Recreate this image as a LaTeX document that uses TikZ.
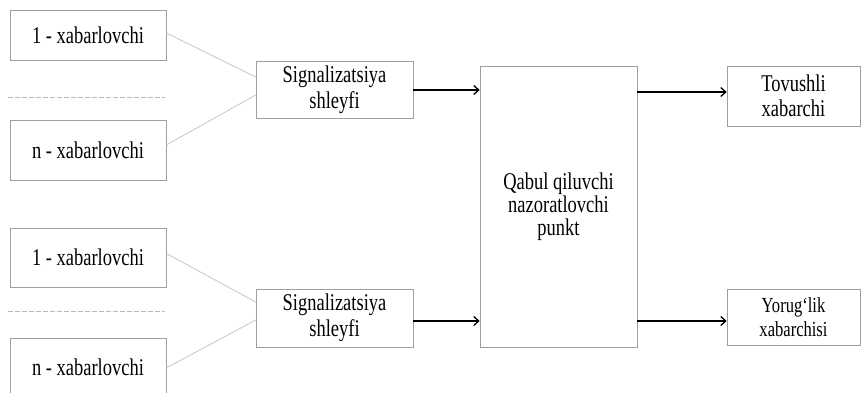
\documentclass[tikz,border=0pt]{standalone}
\usepackage{fontspec}
\setmainfont{Liberation Serif}
\newfontfamily\boxfont[FakeStretch=0.77,Ligatures=TeX]{Liberation Serif}
\usetikzlibrary{calc,arrows.meta}
\begin{document}
\begin{tikzpicture}[x=1pt,y=-1pt,
  box/.style={draw=gray!75,line width=0.6pt,inner sep=0pt,align=center,
    font=\boxfont\fontsize{24}{25}\selectfont},
  smallbox/.style={box,font=\boxfont\fontsize{21.5}{24}\selectfont},
  arr/.style={draw=black,line width=1.3pt,-{Straight Barb[length=5pt,width=9pt]}},
  feed/.style={draw=gray!45,line width=0.8pt},
  sep/.style={draw=gray!55,line width=0.7pt,dash pattern=on 5pt off 2pt}]
\useasboundingbox[fill=white] (0,0) rectangle (861,393);
% left upper group
\node[box,minimum width=156pt,minimum height=50pt] (b1a) at (88,35) {1 - xabarlovchi};
\coordinate (sepAl) at (8,97);
\coordinate (sepAr) at (165,97);
\draw[sep] (sepAl) -- (sepAr);
\node[box,minimum width=156pt,minimum height=60pt] (bna) at (88,150) {n - xabarlovchi};
% left lower group
\node[box,minimum width=156pt,minimum height=59pt] (b1b) at (88,257.5) {1 - xabarlovchi};
\coordinate (sepBl) at (8,311);
\coordinate (sepBr) at (165,311);
\draw[sep] (sepBl) -- (sepBr);
\node[box,minimum width=156pt,minimum height=58pt] (bnb) at (88,367) {n - xabarlovchi};
% signal loops
\node[box,font=\boxfont\fontsize{24}{26.5}\selectfont,minimum width=157pt,minimum height=57pt] (s1) at (334.5,90) {Signalizatsiya\\shleyfi};
\node[box,font=\boxfont\fontsize{24}{26.5}\selectfont,minimum width=157pt,minimum height=58pt] (s2) at (334.5,318) {Signalizatsiya\\shleyfi};
% control panel
\node[box,font=\boxfont\fontsize{24}{23}\selectfont,minimum width=157pt,minimum height=281pt] (Q) at (558.5,206.5) {Qabul qiluvchi\\nazoratlovchi\\punkt};
% outputs
\node[box,minimum width=133pt,minimum height=60pt] (T) at (793.5,96) {Tovushli\\xabarchi};
\node[smallbox,minimum width=133pt,minimum height=56pt] (Y) at (793.5,317) {Yorug‘lik\\xabarchisi};
% feeder lines
\draw[feed] ([yshift=2pt]b1a.east) -- ([yshift=13pt]s1.west);
\draw[feed] ([yshift=5pt]bna.east) -- ([yshift=-5pt]s1.west);
\draw[feed] ([yshift=4pt]b1b.east) -- ([yshift=16pt]s2.west);
\draw[feed] ([yshift=-1pt]bnb.east) -- ([yshift=-2pt]s2.west);
% arrows
\draw[arr] (s1.east) -- (s1.east -| Q.west);
\draw[arr] ([yshift=4pt]T.west -| Q.east) -- ([yshift=4pt]T.west);
\draw[arr] ([yshift=-3pt]s2.east) -- ([yshift=-3pt]s2.east -| Q.west);
\draw[arr] ([yshift=-4pt]Y.west -| Q.east) -- ([yshift=-4pt]Y.west);
\end{tikzpicture}
\end{document}
